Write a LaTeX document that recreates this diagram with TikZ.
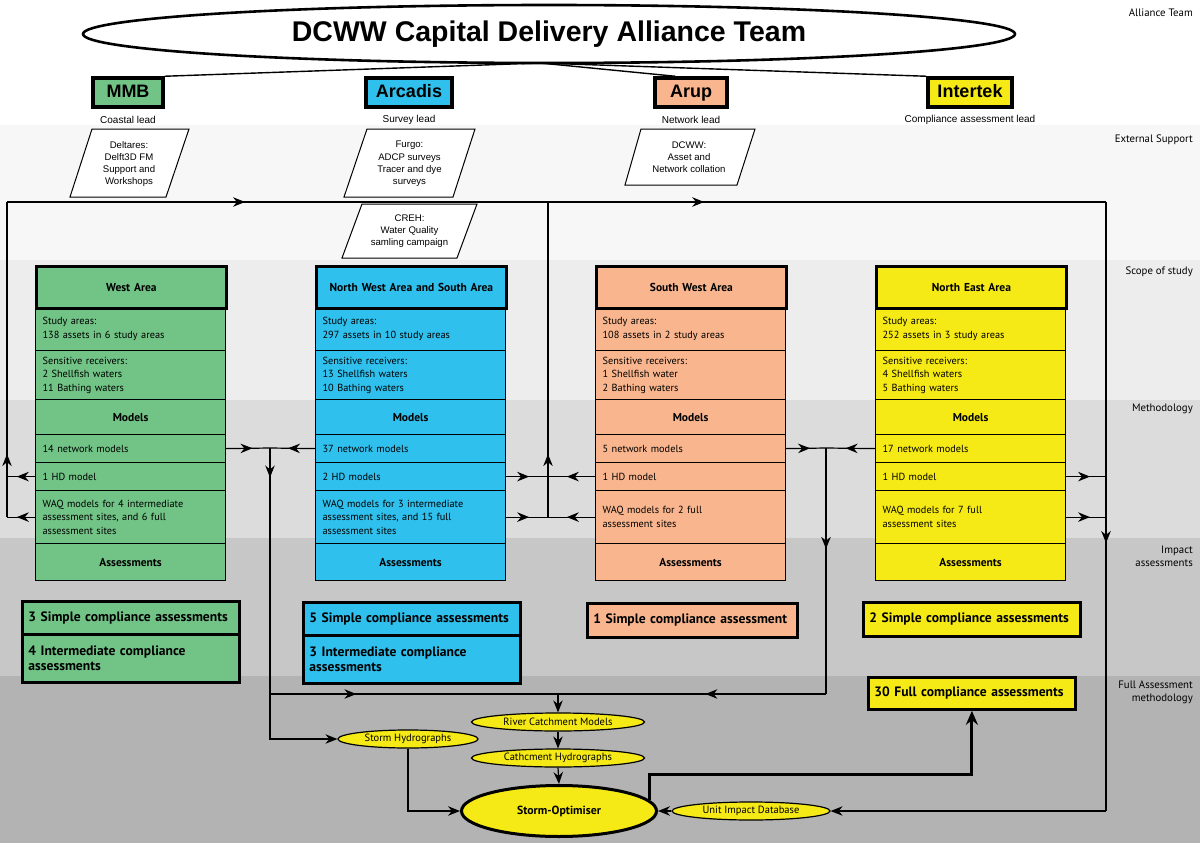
\documentclass[tikz,border=0pt]{standalone}
\usepackage{fontspec}
\setmainfont{Liberation Sans}
\newfontfamily\pts{PT Sans}
\usetikzlibrary{shapes.geometric,arrows.meta,decorations.markings}
\definecolor{cgreen}{HTML}{71C386}
\definecolor{cblue}{HTML}{2FC0EE}
\definecolor{cpeach}{HTML}{F9B68E}
\definecolor{cyellow}{HTML}{F6EA16}
\definecolor{bandA}{HTML}{FFFFFF}
\definecolor{bandB}{HTML}{F7F7F7}
\definecolor{bandC}{HTML}{EDEDED}
\definecolor{bandD}{HTML}{DCDCDC}
\definecolor{bandE}{HTML}{C7C7C7}
\definecolor{bandF}{HTML}{B3B3B3}
\tikzset{
  row/.style={draw, line width=1.2pt, minimum width=190pt, text width=176pt, inner xsep=7pt, inner ysep=0pt,
    align=left, anchor=north west, font=\pts\fontsize{10.3}{13.5}\selectfont},
  rowc/.style={row, align=center, font=\pts\bfseries\fontsize{11.5}{13}\selectfont},
  hdrbox/.style={rowc, line width=2.8pt},
  cbox/.style={draw, line width=2.8pt, anchor=north west, align=left, inner xsep=6pt, inner ysep=0pt,
    font=\pts\bfseries\fontsize{13.6}{15.5}\selectfont},
  leadbox/.style={draw, line width=3.5pt, minimum height=29pt, inner sep=0pt, text height=13pt, text depth=3.5pt,
    font=\bfseries\fontsize{18}{20}\selectfont},
  leadtxt/.style={font=\fontsize{10}{12}\selectfont, inner sep=0pt},
  bandtxt/.style={anchor=east, align=right, inner sep=0pt, font=\pts\fontsize{10.8}{13}\selectfont},
  pg/.style={draw, line width=1pt, fill=white},
  ptxt/.style={align=center, inner sep=0pt, font=\fontsize{9.6}{12.3}\selectfont},
  sm/.style={ellipse, draw, line width=1.2pt, fill=cyellow, inner sep=0pt, minimum height=18pt, font=\pts\fontsize{10.5}{12}\selectfont},
  conn/.style={line width=1.2pt},
  thickc/.style={line width=3pt},
  arr/.style={-{Stealth[length=12pt,width=9.5pt]}},
  ma/.style={postaction={decorate}, decoration={markings, mark=at position #1 with {\arrow{Stealth[length=12pt,width=9.5pt]}}}}
}
\newcommand\mkcol[9]{%
  \node[row, fill=#3, minimum height=43pt] (#1st) at (#2,307) {Study areas:\\#5};
  \node[row, fill=#3, minimum height=49pt] (#1sr) at (#2,350) {Sensitive receivers:\\#6};
  \node[rowc, fill=#3, minimum height=35pt] (#1mod) at (#2,399) {Models};
  \node[row, fill=#3, minimum height=28pt] (#1net) at (#2,434) {#7};
  \node[row, fill=#3, minimum height=28pt] (#1hd) at (#2,462) {#8};
  \node[row, fill=#3, minimum height=53pt] (#1waq) at (#2,490) {#9};
  \node[rowc, fill=#3, minimum height=37pt] (#1as) at (#2,543) {Assessments};
  \node[hdrbox, fill=#3, minimum height=42pt] (#1hdr) at (#2,265) {#4};
}
\begin{document}
\begin{tikzpicture}[x=1pt,y=-1pt]
\useasboundingbox (0,0) rectangle (1200,843);
% bands
\fill[bandA] (0,0) rectangle (1200,125);
\fill[bandB] (0,125) rectangle (1200,260);
\fill[bandC] (0,260) rectangle (1200,400);
\fill[bandD] (0,400) rectangle (1200,538);
\fill[bandE] (0,538) rectangle (1200,676);
\fill[bandF] (0,676) rectangle (1200,843);
\node[bandtxt] (lbA) at (1193,13) {Alliance Team};
\node[bandtxt] (lbB) at (1193,140) {External Support};
\node[bandtxt] (lbC) at (1193,272) {Scope of study};
\node[bandtxt] (lbD) at (1193,409) {Methodology};
\node[bandtxt] (lbE) at (1193,556) {Impact\\assessments};
\node[bandtxt] (lbF) at (1193,692) {Full Assessment\\methodology};

% title and partners
\node[leadbox, fill=cgreen, minimum width=70pt] (mmb) at (128,92.5) {MMB};
\node[leadbox, fill=cblue, minimum width=86pt] (arc) at (409,92.5) {Arcadis};
\node[leadbox, fill=cpeach, minimum width=72pt] (aru) at (691,92.5) {Arup};
\node[leadbox, fill=cyellow, minimum width=84pt] (itk) at (970,92.5) {Intertek};
\draw[line width=1.4pt] (540,63) -- (mmb.north east);
\draw[line width=1.4pt] (540,63) -- ([xshift=22pt]aru.north west);
\draw[line width=1.4pt] (540,63) -- (itk.north west);
\node[ellipse, draw, line width=2.6pt, fill=white, minimum width=932pt, minimum height=58pt, inner sep=0pt,
  font=\bfseries\fontsize{28.5}{30}\selectfont] (top) at (549,34) {DCWW Capital Delivery Alliance Team};
\node[leadtxt] (lmmb) at (128,120) {Coastal lead};
\node[leadtxt] (larc) at (409,120) {Survey lead};
\node[leadtxt] (laru) at (691,120) {Network lead};
\node[leadtxt] (litk) at (970,120) {Compliance assessment lead};

% external support
\draw[pg] (70,197) -- (92,129) -- (189,129) -- (166,197) -- cycle;
\node[ptxt] (pdel) at (129,164) {Deltares:\\Delft3D FM\\Support and\\Workshops};
\draw[pg] (344,197) -- (367,129) -- (475,129) -- (453,197) -- cycle;
\node[ptxt] (pfur) at (409.5,164) {Furgo:\\ADCP surveys\\Tracer and dye\\surveys};
\draw[pg] (625,185) -- (641,129) -- (755,129) -- (737,185) -- cycle;
\node[ptxt] (pdcw) at (689,157) {DCWW:\\Asset and\\Network collation};
\draw[pg] (342,258) -- (362,204) -- (477,204) -- (457,258) -- cycle;
\node[ptxt] (pcre) at (409.5,231) {CREH:\\Water Quality\\samling campaign};

% columns
\mkcol{w}{35}{cgreen}{West Area}{138 assets in 6 study areas}{2 Shellfish waters\\11 Bathing waters}{14 network models}{1 HD model}{WAQ models for 4 intermediate\\assessment sites, and 6 full\\assessment sites}
\mkcol{n}{315}{cblue}{North West Area and South Area}{297 assets in 10 study areas}{13 Shellfish waters\\10 Bathing waters}{37 network models}{2 HD models}{WAQ models for 3 intermediate\\assessment sites, and 15 full\\assessment sites}
\mkcol{s}{595}{cpeach}{South West Area}{108 assets in 2 study areas}{1 Shellfish water\\2 Bathing waters}{5 network models}{1 HD model}{WAQ models for 2 full\\assessment sites}
\mkcol{e}{875}{cyellow}{North East Area}{252 assets in 3 study areas}{4 Shellfish waters\\5 Bathing waters}{17 network models}{1 HD model}{WAQ models for 7 full\\assessment sites}

% compliance boxes
\node[cbox, fill=cgreen, minimum width=217pt, text width=205pt, minimum height=33pt] (wc1) at (21,600) {3 Simple compliance assessments};
\node[cbox, fill=cgreen, minimum width=217pt, text width=205pt, minimum height=48pt] (wc2) at (21,633) {4 Intermediate compliance\\assessments};
\node[cbox, fill=cblue, minimum width=217pt, text width=205pt, minimum height=33pt] (nc1) at (302,601) {5 Simple compliance assessments};
\node[cbox, fill=cblue, minimum width=217pt, text width=205pt, minimum height=48pt] (nc2) at (302,634) {3 Intermediate compliance\\assessments};
\node[cbox, fill=cpeach, minimum width=210pt, text width=198pt, minimum height=34pt] (sc1) at (586,602) {1 Simple compliance assessment};
\node[cbox, fill=cyellow, minimum width=217pt, text width=205pt, minimum height=34pt] (ec1) at (862,601) {2 Simple compliance assessments};
\node[cbox, fill=cyellow, minimum width=207pt, text width=195pt, minimum height=32pt] (fca) at (867,676) {30 Full compliance assessments};

% bottom process
\node[sm, minimum width=173pt] (rcm) at (558,722) {River Catchment Models};
\node[sm, minimum width=140pt] (sh) at (408,739) {Storm Hydrographs};
\node[sm, minimum width=173pt] (chy) at (558,758) {Cathcment Hydrographs};
\node[ellipse, draw, line width=3pt, fill=cyellow, inner sep=0pt, minimum width=195pt, minimum height=51pt,
  font=\pts\bfseries\fontsize{11.8}{13}\selectfont] (so) at (559,811) {Storm-Optimiser};
\node[sm, minimum width=158pt] (uid) at (751,811) {Unit Impact Database};

% junction coordinates
\coordinate (jL) at (7,202);
\coordinate (jM) at (548,202);
\coordinate (jR) at (1106,202);
\coordinate (j1) at (270,448);
\coordinate (j2) at (826,448);
\coordinate (j3) at (270,694);
\coordinate (j4) at (826,694);
\coordinate (j5) at (558,694);

% loop connectors (HD / WAQ to top line)
\draw[conn, ma=0.65] (whd.west) -- (whd.west -| jL);
\draw[conn, ma=0.65] (wwaq.west) -- (wwaq.west -| jL);
\draw[conn, ma=0.2] (wwaq.west -| jL) -- (jL);
\draw[conn, ma=0.44] (jL) -- (jM);
\draw[conn, ma=0.28] (jM) -- (jR);
\draw[conn, ma=0.55] (nhd.east) -- (nhd.east -| jM);
\draw[conn, ma=0.55] (nwaq.east) -- (nwaq.east -| jM);
\draw[conn, ma=0.6] (shd.west) -- (shd.west -| jM);
\draw[conn, ma=0.6] (swaq.west) -- (swaq.west -| jM);
\draw[conn, ma=0.2] (nwaq.east -| jM) -- (jM);
\draw[conn, ma=0.6] (ehd.east) -- (ehd.east -| jR);
\draw[conn, ma=0.6] (ewaq.east) -- (ewaq.east -| jR);
\draw[conn, ma=0.56] (jR) -- (jR |- uid.east);
\draw[conn, arr] (jR |- uid.east) -- (uid.east);

% network model connectors
\draw[conn, ma=0.6] (wnet.east) -- (j1);
\draw[conn, ma=0.6] (nnet.west) -- (j1);
\draw[conn, ma=0.6] (snet.east) -- (j2);
\draw[conn, ma=0.6] (enet.west) -- (j2);
\draw[conn, ma=0.12] (j1) -- (j3);
\draw[conn, arr] (j3) |- (sh.west);
\draw[conn, ma=0.3] (j3) -- (j5);
\draw[conn, ma=0.41] (j2) -- (j4);
\draw[conn, ma=0.45] (j4) -- (j5);
\draw[conn, arr] (j5) -- (rcm.north);
\draw[conn, arr] (rcm.south) -- (chy.north);
\draw[conn, arr] (chy.south) -- (so.north);
\draw[conn, arr] (sh.south) |- (so.west);
\draw[conn, arr] (uid.west) -- (so.east);
\draw[thickc, -{Stealth[length=14pt,width=12pt]}] (so.7) -- ++(0,-25) -| (fca.south);
\end{tikzpicture}
\end{document}
